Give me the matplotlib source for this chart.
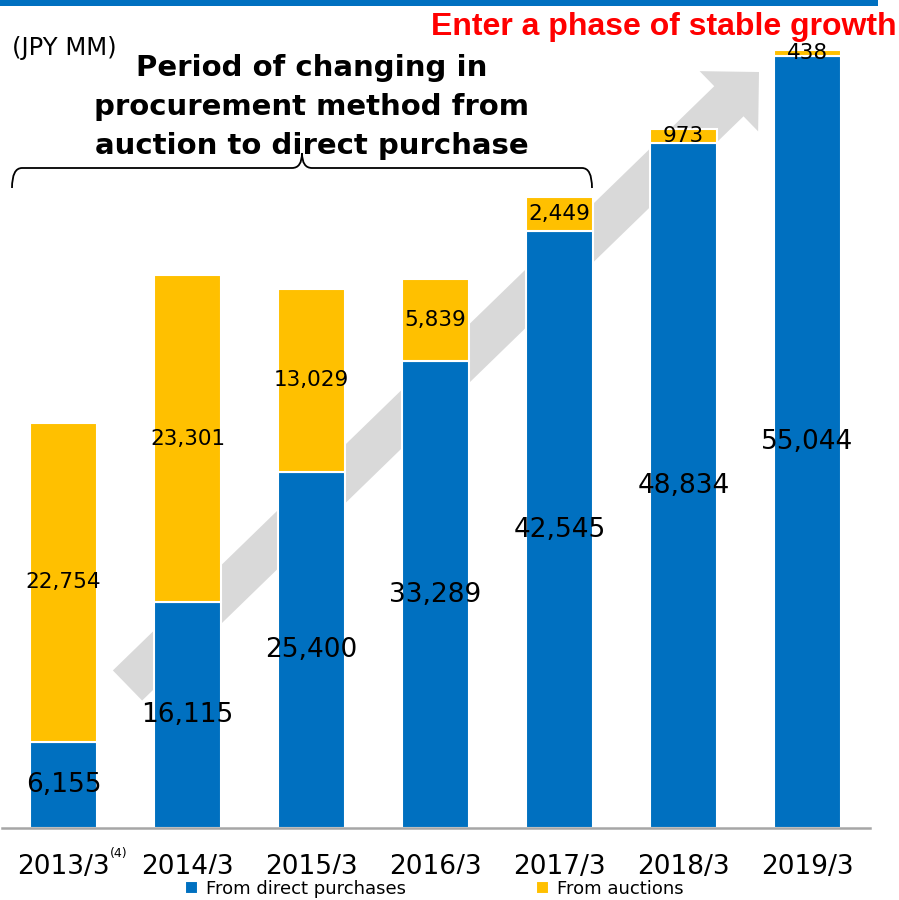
import numpy as np
import matplotlib.pyplot as plt
import matplotlib.patches as mpatches
import matplotlib.transforms as mtransforms
from matplotlib.path import Path

# Data (JPY MM)
years = ["2013/3", "2014/3", "2015/3", "2016/3", "2017/3", "2018/3", "2019/3"]
direct = [6155, 16115, 25400, 33289, 42545, 48834, 55044]
auction = [22754, 23301, 13029, 5839, 2449, 973, 438]

BLUE = "#0070C0"
YELLOW = "#FFC000"
GRAY = "#D9D9D9"

W, H = 899, 900
fig = plt.figure(figsize=(W / 100, H / 100), dpi=100)
# pixel coordinates measured from the top-left corner
px = mtransforms.Affine2D().scale(1 / W, -1 / H).translate(0, 1) + fig.transFigure

ax = fig.add_axes([1.5 / W, 72 / H, 868 / W, 813.5 / H])
ax.set_xlim(-0.5, 6.5)
ax.set_ylim(0, 58000)

x = np.arange(len(years))
b1 = ax.bar(x, direct, width=0.54, color=BLUE, edgecolor="white", linewidth=1.5,
            label="From direct purchases", zorder=2)
b2 = ax.bar(x, auction, bottom=direct, width=0.54, color=YELLOW, edgecolor="white",
            linewidth=1.5, label="From auctions", zorder=2)
ax.bar_label(b1, labels=[f"{v:,}" for v in direct], label_type="center", fontsize=19)
ax.bar_label(b2, labels=[f"{v:,}" for v in auction], label_type="center", fontsize=15.5)

for s in ["top", "right", "left"]:
    ax.spines[s].set_visible(False)
ax.spines["bottom"].set_color("#A6A6A6")
ax.spines["bottom"].set_linewidth(1.8)
ax.set_yticks([])
ax.set_xticks(x, labels=years, fontsize=19)
ax.tick_params(axis="x", length=0, pad=18.5)
ax.patch.set_visible(False)

# growth arrow behind the bars
arrow = mpatches.FancyArrow(127.5, 685.5, 631.5, -613.5, width=42, head_width=84,
                            head_length=42, length_includes_head=True,
                            color=GRAY, lw=0, transform=px, zorder=0.5)
fig.add_artist(arrow)
ax.set_zorder(1)

# curly brace over the transition years
verts = [(12, 188), (12, 168), (22, 168), (292, 168), (302, 168), (302, 153),
         (302, 168), (312, 168), (582, 168), (592, 168), (592, 188)]
codes = [Path.MOVETO, Path.CURVE3, Path.CURVE3, Path.LINETO, Path.CURVE3, Path.CURVE3,
         Path.CURVE3, Path.CURVE3, Path.LINETO, Path.CURVE3, Path.CURVE3]
brace = mpatches.PathPatch(Path(verts, codes), fill=False, lw=1.3, color="black",
                           transform=px, zorder=3)
fig.add_artist(brace)

title_lines = ["Period of changing in", "procurement method from", "auction to direct purchase"]
for i, line in enumerate(title_lines):
    fig.text(312, 76 + 39 * i, line, transform=px, ha="center", va="baseline",
             fontsize=21, fontweight="bold", zorder=4)
fig.text(897, 35, "Enter a phase of stable growth", transform=px, ha="right",
         va="baseline", fontsize=23, fontweight="bold", color="#FF0000",
         family="Liberation Sans")
fig.text(12, 55, "(JPY MM)", transform=px, ha="left", va="baseline", fontsize=17.5)
fig.text(119, 853, "(4)", transform=px, ha="center", va="center", fontsize=9)

# header strip
fig.add_artist(mpatches.Rectangle((0, 0), 878, 6, color=BLUE, transform=px, lw=0))

# legend strip overlaps the bottom of the middle tick labels
fig.add_artist(mpatches.Rectangle((140, 874), 350, 26, color="white", transform=px,
                                  lw=0, zorder=5))
leg_kw = dict(frameon=False, fontsize=13, handlelength=0.7, handleheight=0.7,
              handletextpad=0.45, borderpad=0, borderaxespad=0, loc="center left")
l1 = fig.legend(handles=[b1], bbox_to_anchor=(185, 889), bbox_transform=px, **leg_kw)
l2 = fig.legend(handles=[b2], bbox_to_anchor=(536, 889), bbox_transform=px, **leg_kw)
for lg in (l1, l2):
    lg.set_zorder(6)

fig.savefig("out.png", dpi=100)
